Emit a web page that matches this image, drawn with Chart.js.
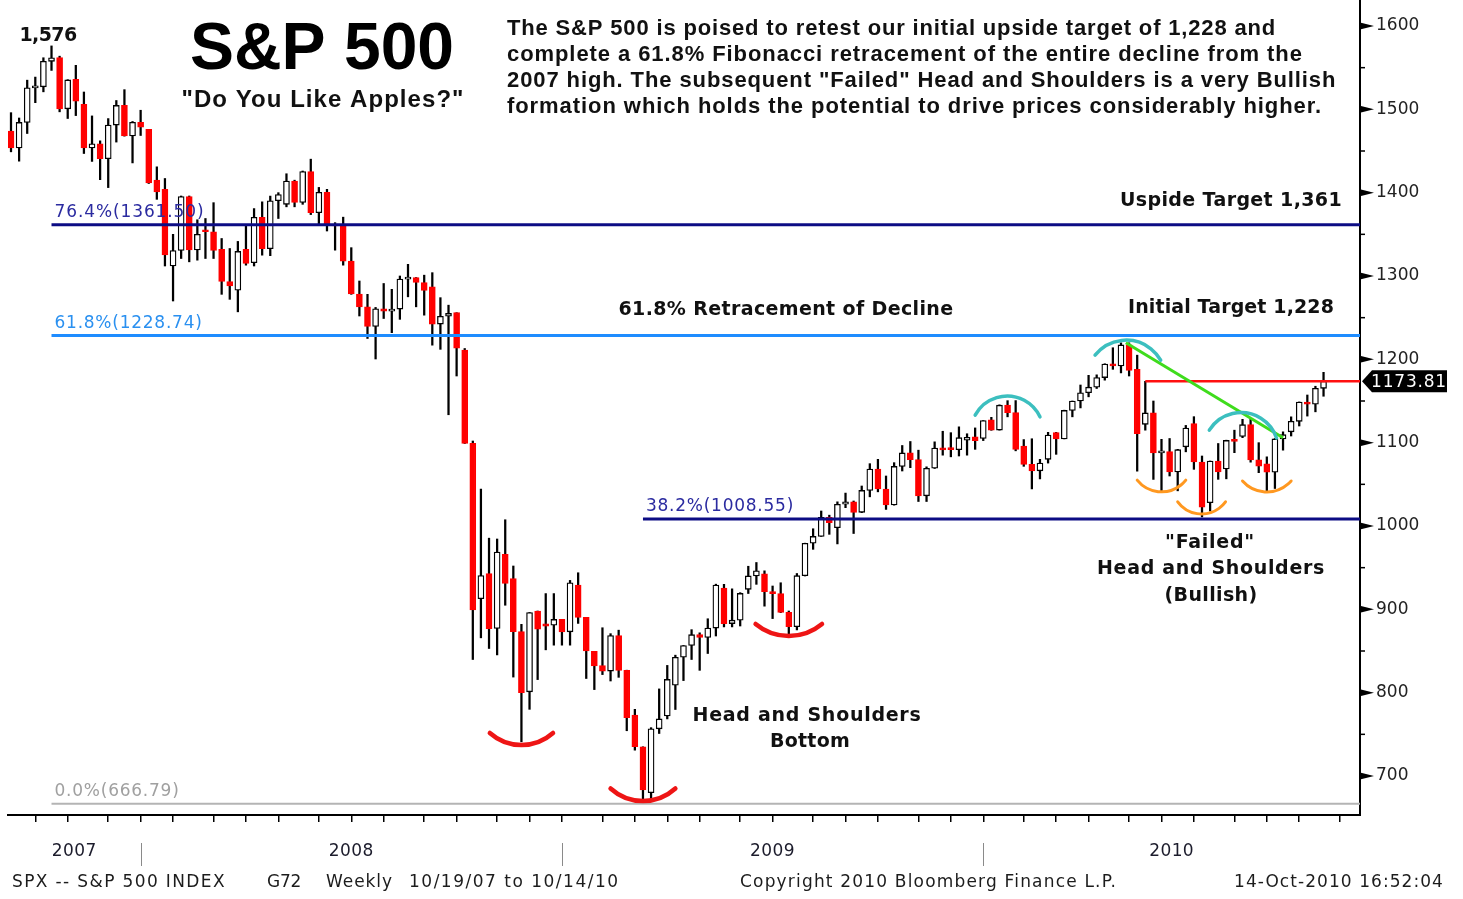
<!DOCTYPE html>
<html><head><meta charset="utf-8">
<script src="https://cdn.jsdelivr.net/npm/chart.js@4.4.1/dist/chart.umd.min.js"></script>
<style>html,body{margin:0;padding:0;background:#fff;overflow:hidden}#wrap{width:1463px;height:899px}</style>
</head><body><div id="wrap"><canvas id="c" width="1463" height="899"></canvas></div>
<script>
// ---- weekly S&P 500 candles, week ending 7-Sep-2007 (index 0) to 15-Oct-2010 (index 162)
const opens = [1474,1453.6,1484.3,1525.8,1527,1557.6,1562,1500.6,1536,1505.9,1453.7,1458.7,1440.7,1481.1,1504.7,1468,1484.5,
1476,1415,1404,1312,1330.6,1395.4,1331.3,1355,1353.1,1332,1293.4,1283,1332,1315.9,1370.4,1332.8,1390.3,1386,1413.9,1388.3,1425.4,1375.9,1400.4,1360.8,1360,1317.9,1278.4,1262.9,1239.5,1260.7,1257.8,1260.3,1296.3,1298.2,1292.2,1287,1242.3,1251.7,1256,1211,1099.2,912.8,943,877,966,936.8,873.3,801,898,882.7,881,887.9,
873,929,890.4,849.6,832.5,825.9,868.6,826.8,773,735.1,680,756.6,772,809,842.5,856.6,869.6,866.2,877.5,925.5,882.9,887,924,940.1,942.5,921.2,918.9,896.4,879.1,940.4,979.3,987.5,1010.5,998,1026.1,1028.9,1016.4,1042.7,1068.3,1044.4,1025.2,1071.5,1087.7,1079.6,1036.2,1069.3,1093.5,1094,1091.5,1103,1107,1105,1127.5,
1115.1,1145,1136,1096,1073.9,1066.2,1080,1112,1104.5,1138.7,1150,1159.9,1166.6,1178.1,1194.4,1192.1,1217.3,1188,1122,1135.7,1087.7,1089.4,1064.9,1095,1123,1076.8,1028,1078,1068.5,1102.7,1107.5,1121.6,1079.3,1074.5,1064.6,1104.5,1113,1125.6,1148.7,1146.2,1165.2];
const highs = [1496,1489.6,1535,1538.7,1561.9,1576.1,1563.8,1535.6,1552.8,1520.8,1492.1,1462.2,1488.9,1510.6,1523.6,1485.4,1498.9,
1476,1431,1417,1350,1396,1396,1367.5,1369,1388,1345,1333,1341.5,1359.7,1380.9,1389,1395.9,1400,1422.7,1415,1426,1440.2,1406.3,1404,1364,1370.6,1334,1294,1278,1262.3,1291,1284,1300,1314,1298.2,1301,1304,1274,1265,1256,1213,1102,1044.3,985.4,984.4,1007.5,952,882,896.2,898,918.9,918.9,887.9,
934.7,943.9,890.4,849.6,877.9,870.8,875,827,780,735.1,758,804.5,832.7,845,856.6,875.6,871.8,888.7,930.2,930,924.6,920,951.7,956.2,946.2,928,931.9,898,943,979.4,996.7,1018,1013,1029,1039.5,1030,1048,1074.8,1080,1060,1076,1096.6,1101.4,1091,1071,1101,1113.7,1112,1119,1110.7,1117.7,1126.5,1130.4,
1145.4,1150.4,1150.5,1103.7,1104.7,1080,1112.4,1112.4,1139,1150,1169.2,1180.8,1181.4,1194.7,1213.9,1219.8,1219.8,1205,1173.6,1150,1104,1105,1092,1120.7,1131.2,1084,1078,1099,1103,1115,1128,1129.2,1100,1083,1105,1113,1131,1148.9,1157.2,1167.7,1184.4];
const lows = [1449,1437.8,1471,1508,1521,1546.7,1497,1489,1492.5,1447,1437.5,1415.6,1406.1,1460.7,1467.8,1435.7,1468.6,
1411,1392,1312,1270,1321,1317,1319,1321,1321,1278,1272,1257,1313,1312,1325,1324.4,1369,1383,1383,1386,1373.7,1362,1354,1331,1313,1278,1252,1225,1200.4,1249,1232,1248,1275,1263,1253,1217,1212,1133.5,1180,1099,839.8,865.8,853,845.3,904.9,818.7,741,780,815.7,851.4,857,857,
857,883.1,817,803.7,821.7,814,818.4,754.3,731,666.8,672.9,751,768.5,779.8,814.5,839.8,826.8,847,868,878.9,878.9,880,919,930,903.8,888.9,896,869.3,875.3,940,972,987.5,990,978.5,1022,991,1016,1035,1041,1019.9,1025,1066,1070,1029.4,1029.4,1069,1085,1083,1084,1085,1092,1102.5,1114.8,
1115,1131,1090.2,1071.6,1044.5,1056.5,1075.5,1086,1104.5,1131,1141.7,1155,1165,1175,1188,1183.7,1180,1065.8,1115,1055.9,1040.8,1060,1042.2,1089,1068,1010.9,1018,1056,1056.6,1088,1106,1076.6,1064,1040,1045,1091,1108,1120,1131.9,1137,1155.7];
const closes = [1453.6,1484.3,1525.8,1526.8,1557.6,1561.8,1500.6,1535.3,1509.7,1453.7,1458.7,1440.7,1481.1,1504.7,1468,1484.5,1478.5,
1411.6,1401,1325.2,1330.6,1395.4,1331.3,1350,1353.1,1330.6,1293.4,1288.1,1329.5,1315.2,1370.4,1332.8,1390.3,1397.8,1413.9,1388.3,1425.4,1375.9,1400.4,1360.7,1360,1317.9,1278.4,1262.9,1239.5,1260.7,1257.8,1260.3,1296.3,1298.2,1292.2,1282.8,1242.3,1251.7,1255.1,1213.3,1099.2,899.2,940.6,876.8,968.8,931,873.3,800,896.2,876.1,879.7,887.9,872.8,
931.8,890.4,850.1,832,825.9,868.6,826.8,770,735.1,683.4,756.6,768.5,815.9,842.5,856.6,869.6,866.2,877.5,929.2,882.9,887,919.1,940.1,946.2,921.2,918.9,896.4,879.1,940.4,979.3,987.5,1010.5,1004.1,1026.1,1028.9,1016.4,1042.7,1068.3,1044.4,1025.2,1071.5,1087.7,1079.6,1036.2,1069.3,1093.5,1091.4,1091.5,1106,1106.4,1102.5,1126.5,1115.1,
1145,1136,1091.8,1073.9,1066.2,1075.5,1109.2,1104.5,1138.7,1150,1159.9,1166.6,1178.1,1194.4,1192.1,1217.3,1186.7,1110.9,1135.7,1087.7,1089.4,1064.9,1091.6,1117.5,1076.8,1022.6,1078,1064.9,1102.7,1101.6,1121.6,1079.3,1071.7,1064.6,1104.5,1109.6,1125.6,1148.7,1146.2,1165.2,1173.81];

// axis ticks
const yTicks = [700,800,900,1000,1100,1200,1300,1400,1500,1600];
const yMinorTicks = [750,850,950,1050,1150,1250,1350,1450,1550];
const monthEndIdx = [3,7,12,16,20,25,29,33,38,42,46,51,55,60,64,68,73,77,81,85,90,94,99,103,107,112,116,120,125,129,133,138,142,146,151,155,159,164];
const yearSepIdx = [16,68,120];
const yearLabels = ['2007','2008','2009','2010'];

// Fibonacci levels
const fibLevels = [1361.50, 1228.74, 1008.55, 666.79];
const fibLabels = ['76.4%(1361.50)','61.8%(1228.74)','38.2%(1008.55)','0.0%(666.79)'];
const fibStartIdx = [5, 5, 78, 5];

// annotations (index, value)
const lastPrice = 1173.81;
const lastPriceStartIdx = 140;
const trendLine = [[137.6, 1220], [157, 1106]];
const arcsTeal = [[119,1133,123,1156,127,1131],[133.8,1205,137.8,1223,141.9,1199],[147.9,1115,151.4,1136,156.2,1105.6]];
const arcsOrange = [[139,1055,142,1041,145,1055],[144,1029,147,1014.4,149.9,1029],[152,1054,155,1040.8,158,1054]];
const arcsRed = [[59.1,751.6,63.1,737.2,66.9,751.6],[74,685,78,670,82,685],[91.9,882.4,95.9,868,100.1,882.4]];

const idx = closes.map((_, i) => i);

function txt(ctx, s, x, y, font, color, align, targetW) {
  ctx.font = font; ctx.fillStyle = color; ctx.textAlign = align || 'left'; ctx.textBaseline = 'middle';
  if ('letterSpacing' in ctx) {
    ctx.letterSpacing = '0px';
    if (targetW) {
      const w = ctx.measureText(s).width;
      let ls = (targetW - w) / Math.max(1, s.length);
      ls = Math.max(-1.5, Math.min(1.5, ls));
      ctx.letterSpacing = ls.toFixed(2) + 'px';
    }
  }
  ctx.fillText(s, x, y);
  if ('letterSpacing' in ctx) ctx.letterSpacing = '0px';
}

function arc3(ctx, p0, p1, p2) {
  const [ax, ay] = p0, [bx, by] = p1, [cx, cy] = p2;
  const d = 2 * (ax * (by - cy) + bx * (cy - ay) + cx * (ay - by));
  const ux = ((ax*ax+ay*ay)*(by-cy) + (bx*bx+by*by)*(cy-ay) + (cx*cx+cy*cy)*(ay-by)) / d;
  const uy = ((ax*ax+ay*ay)*(cx-bx) + (bx*bx+by*by)*(ax-cx) + (cx*cx+cy*cy)*(bx-ax)) / d;
  const r = Math.hypot(ax - ux, ay - uy);
  const a0 = Math.atan2(ay - uy, ax - ux), a1 = Math.atan2(by - uy, bx - ux), a2 = Math.atan2(cy - uy, cx - ux);
  const norm = a => ((a % (2*Math.PI)) + 2*Math.PI) % (2*Math.PI);
  const anti = !(norm(a1 - a0) < norm(a2 - a0));
  ctx.beginPath(); ctx.arc(ux, uy, r, a0, a2, anti); ctx.stroke();
}

const annot = {
  id: 'annot',
  afterDatasetsDraw(chart) {
    const { ctx, chartArea: ca } = chart;
    const xs = chart.scales.x, ys = chart.scales.y;
    const X = v => xs.getPixelForValue(v), Y = v => ys.getPixelForValue(v);
    ctx.save();
    // Fibonacci lines
    const fibColors = ['#0c0c84', '#1e8cff', '#0c0c84', '#b4b4b4'];
    const fibText = ['#2b2ba0', '#2a90f0', '#2b2ba0', '#a0a0a0'];
    const fibW = [3, 3, 3, 2];
    const fibTW = [150, 148, 148, 125];
    fibLevels.forEach((lv, k) => {
      ctx.strokeStyle = fibColors[k]; ctx.lineWidth = fibW[k];
      ctx.beginPath(); ctx.moveTo(X(fibStartIdx[k]), Y(lv)); ctx.lineTo(ca.right, Y(lv)); ctx.stroke();
    });
    fibLevels.forEach((lv, k) => {
      txt(ctx, fibLabels[k], X(fibStartIdx[k]) + 3, Y(lv) - 12, '17px "DejaVu Sans", sans-serif', fibText[k], 'left', fibTW[k]);
    });
    // last price line
    ctx.strokeStyle = '#ff1010'; ctx.lineWidth = 2.5;
    ctx.beginPath(); ctx.moveTo(X(lastPriceStartIdx), Y(lastPrice)); ctx.lineTo(ca.right, Y(lastPrice)); ctx.stroke();
    // trend line
    ctx.strokeStyle = '#3fdc1c'; ctx.lineWidth = 3;
    ctx.beginPath(); ctx.moveTo(X(trendLine[0][0]), Y(trendLine[0][1])); ctx.lineTo(X(trendLine[1][0]), Y(trendLine[1][1])); ctx.stroke();
    // arcs
    ctx.lineCap = 'round';
    const drawArcs = (list, col, w) => {
      ctx.strokeStyle = col; ctx.lineWidth = w;
      list.forEach(a => arc3(ctx, [X(a[0]), Y(a[1])], [X(a[2]), Y(a[3])], [X(a[4]), Y(a[5])]));
    };
    drawArcs(arcsTeal, '#3cbfbf', 3.5);
    drawArcs(arcsOrange, '#ff9820', 3);
    drawArcs(arcsRed, '#ee1515', 4.5);
    ctx.restore();
  },
  afterDraw(chart) {
    const { ctx, chartArea: ca } = chart;
    const xs = chart.scales.x, ys = chart.scales.y;
    const X = v => xs.getPixelForValue(v), Y = v => ys.getPixelForValue(v);
    ctx.save();
    // y-axis flag ticks and minor ticks
    ctx.fillStyle = '#000'; ctx.strokeStyle = '#000'; ctx.lineWidth = 1.5;
    yTicks.forEach(v => {
      const y = Y(v);
      ctx.beginPath(); ctx.moveTo(ca.right, y - 3.5); ctx.lineTo(ca.right + 14, y); ctx.lineTo(ca.right, y + 3.5); ctx.closePath(); ctx.fill();
    });
    yMinorTicks.forEach(v => {
      const y = Y(v);
      ctx.beginPath(); ctx.moveTo(ca.right, y); ctx.lineTo(ca.right + 5, y); ctx.stroke();
    });
    // last price tag
    const yl = Y(lastPrice);
    ctx.fillStyle = '#000';
    ctx.beginPath(); ctx.moveTo(ca.right + 2, yl); ctx.lineTo(ca.right + 12, yl - 11); ctx.lineTo(ca.right + 87, yl - 11);
    ctx.lineTo(ca.right + 87, yl + 11); ctx.lineTo(ca.right + 12, yl + 11); ctx.closePath(); ctx.fill();
    txt(ctx, lastPrice.toFixed(2), ca.right + 49, yl + 1, '17px "DejaVu Sans", sans-serif', '#fff', 'center', 76);

    // year separators + labels
    ctx.strokeStyle = '#8a8a8a'; ctx.lineWidth = 1;
    yearSepIdx.forEach(i => { const x = Math.round(X(i)) + 0.5; ctx.beginPath(); ctx.moveTo(x, 843); ctx.lineTo(x, 866); ctx.stroke(); });
    const bounds = [ca.left, ...yearSepIdx.map(X), ca.right];
    yearLabels.forEach((lab, k) => {
      txt(ctx, lab, (bounds[k] + bounds[k + 1]) / 2, 852, '17px "DejaVu Sans", sans-serif', '#1c1c2c', 'center', 45);
    });
    // footer
    const ff = '17px "DejaVu Sans", sans-serif', fc = '#1c1c1c';
    txt(ctx, 'SPX -- S&P 500 INDEX', 12, 883, ff, fc, 'left', 214);
    txt(ctx, 'G72', 267, 883, ff, fc, 'left', 34);
    txt(ctx, 'Weekly', 326, 883, ff, fc, 'left', 67);
    txt(ctx, '10/19/07 to 10/14/10', 409, 883, ff, fc, 'left', 216);
    txt(ctx, 'Copyright 2010 Bloomberg Finance L.P.', 740, 883, ff, fc, 'left', 377);
    txt(ctx, '14-Oct-2010 16:52:04', 1234, 883, ff, fc, 'left', 210);

    // titles and notes
    txt(ctx, '1,576', 48, 36, 'bold 19px "DejaVu Sans", sans-serif', '#111', 'center', 57);
    ctx.font = 'bold 66px "Liberation Sans", Arial, sans-serif'; ctx.fillStyle = '#000'; ctx.textAlign = 'center'; ctx.textBaseline = 'alphabetic';
    ctx.fillText('S&P 500', 322, 69);
    txt(ctx, '"Do You Like Apples?"', 323, 100, 'bold 24px "Liberation Sans", Arial, sans-serif', '#111', 'center', 283);
    const pf = 'bold 22px "Liberation Sans", Arial, sans-serif';
    txt(ctx, 'The S&P 500 is poised to retest our initial upside target of 1,228 and', 507, 29, pf, '#111', 'left', 769);
    txt(ctx, 'complete a 61.8% Fibonacci retracement of the entire decline from the', 507, 55, pf, '#111', 'left', 796);
    txt(ctx, '2007 high. The subsequent "Failed" Head and Shoulders is a very Bullish', 507, 81, pf, '#111', 'left', 829);
    txt(ctx, 'formation which holds the potential to drive prices considerably higher.', 507, 107, pf, '#111', 'left', 815);

    const lf = 'bold 19px "DejaVu Sans", sans-serif';
    txt(ctx, 'Uspide Target 1,361', 1342, 201, lf, '#111', 'right', 222);
    txt(ctx, 'Initial Target 1,228', 1334, 308, lf, '#111', 'right', 206);
    txt(ctx, '61.8% Retracement of Decline', 786, 310, lf, '#111', 'center', 335);
    txt(ctx, 'Head and Shoulders', 807, 716, lf, '#111', 'center', 229);
    txt(ctx, 'Bottom', 810, 742, lf, '#111', 'center', 80);
    txt(ctx, '"Failed"', 1210, 543, lf, '#111', 'center', 90);
    txt(ctx, 'Head and Shoulders', 1211, 569, lf, '#111', 'center', 228);
    txt(ctx, '(Bullish)', 1211, 596, lf, '#111', 'center', 93);
    ctx.restore();
  }
};

const upCol = '#ffffff', downCol = '#ff0000';
new Chart(document.getElementById('c'), {
  type: 'bar',
  data: {
    datasets: [
      {
        label: 'body', order: 0, grouped: false,
        data: idx.map(i => ({ x: i, y: [opens[i], closes[i]] })),
        backgroundColor: idx.map(i => closes[i] < opens[i] ? downCol : upCol),
        borderColor: idx.map(i => closes[i] < opens[i] ? downCol : '#000000'),
        borderWidth: 1.3, borderSkipped: false, barThickness: 6, minBarLength: 2
      },
      {
        label: 'wick', order: 1, grouped: false,
        data: idx.map(i => ({ x: i, y: [lows[i], highs[i]] })),
        backgroundColor: '#000', borderWidth: 0, barThickness: 1.6
      }
    ]
  },
  options: {
    responsive: false, animation: false, devicePixelRatio: 1,
    layout: { padding: { left: 8, right: 0, top: 0, bottom: 0 } },
    plugins: { legend: { display: false }, tooltip: { enabled: false } },
    scales: {
      x: {
        type: 'linear', min: -0.37, max: 166.5, offset: false,
        grid: { display: true, drawOnChartArea: false, drawTicks: true, tickLength: 7, color: '#000', lineWidth: 1.5, offset: false },
        border: { display: true, color: '#000', width: 2 },
        ticks: { display: false },
        afterBuildTicks: s => { s.ticks = monthEndIdx.map(v => ({ value: v })); },
        afterFit: s => { s.height = 84; s.paddingLeft = 0; s.paddingRight = 0; }
      },
      y: {
        position: 'right', min: 653.2, max: 1631.2,
        grid: { display: true, drawOnChartArea: false, drawTicks: false },
        border: { display: true, color: '#000', width: 2 },
        ticks: { padding: 16, color: '#222', font: { family: '"DejaVu Sans", sans-serif', size: 17 }, callback: v => String(v) },
        afterBuildTicks: s => { s.ticks = yTicks.map(v => ({ value: v })); },
        afterFit: s => { s.width = 103; s.paddingTop = 0; s.paddingBottom = 0; }
      }
    }
  },
  plugins: [annot]
});
</script>
</body></html>
